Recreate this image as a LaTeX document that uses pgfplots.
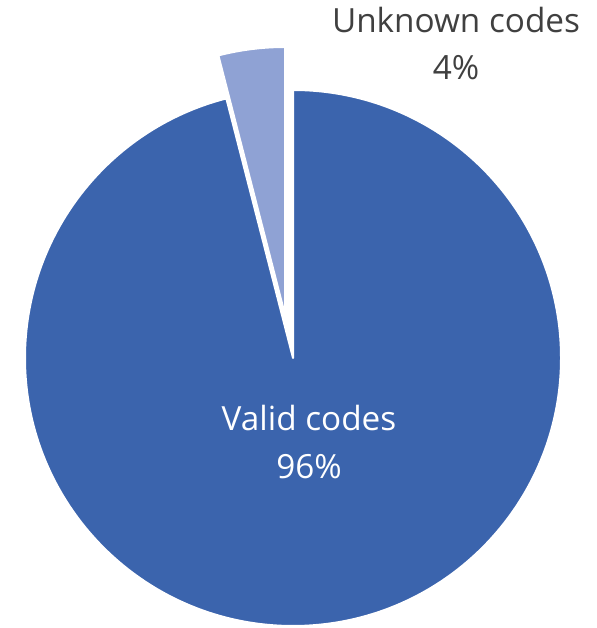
\documentclass[border=0pt]{standalone}
\usepackage{pgfplots}
\usepackage{pgfplotstable}
\pgfplotsset{compat=1.18}
\usepackage{fontspec}
\setmainfont{Open Sans}
\definecolor{mainblue}{HTML}{3B64AD}
\definecolor{lightblue}{HTML}{8FA2D4}
\definecolor{labelgray}{HTML}{404040}
\pgfplotstableread{
label value
Valid 96
Unknown 4
}\piedata
\begin{document}
\begin{tikzpicture}
\pgfplotstablegetelem{0}{value}\of\piedata \let\valA\pgfplotsretval
\pgfplotstablegetelem{1}{value}\of\piedata \let\valB\pgfplotsretval
\pgfmathsetmacro{\angA}{\valA/(\valA+\valB)*360}
\pgfmathsetmacro{\angB}{\valB/(\valA+\valB)*360}
\begin{axis}[hide axis, scale only axis, width=596pt, height=628pt,
  xmin=0, xmax=596, ymin=0, ymax=628, clip=false]
\path (axis cs:0,0) rectangle (axis cs:596,628);
% main slice (clockwise from 12 o'clock)
\filldraw[fill=mainblue, draw=white, line width=2pt, line join=round]
  (axis cs:293,270) -- +(90:268pt) arc[start angle=90, end angle={90-\angA}, radius=268pt] -- cycle;
% exploded small slice
\filldraw[fill=lightblue, draw=white, line width=2pt, line join=round]
  (axis cs:285,313) -- +(90:268pt) arc[start angle=90, end angle={90+\angB}, radius=268pt] -- cycle;
\node[anchor=base, text=labelgray, font=\fontsize{33.3}{37}\selectfont] at (axis cs:456,595) {Unknown codes};
\node[anchor=base, text=labelgray, font=\fontsize{33.3}{37}\selectfont] at (axis cs:456,548) {4\%};
\node[anchor=base, text=white, font=\fontsize{33.3}{37}\selectfont] at (axis cs:309,197) {Valid codes};
\node[anchor=base, text=white, font=\fontsize{33.3}{37}\selectfont] at (axis cs:309,149) {96\%};
\end{axis}
\end{tikzpicture}
\end{document}
